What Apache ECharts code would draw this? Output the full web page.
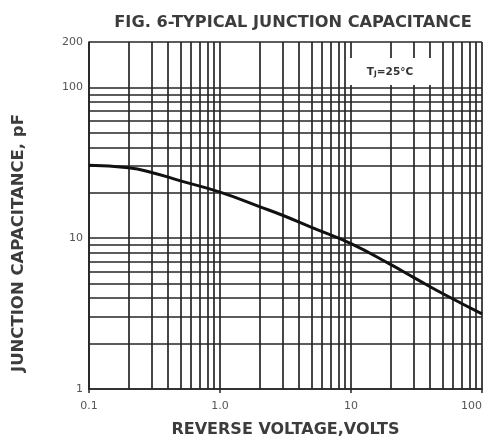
<!DOCTYPE html>
<html>
<head>
<meta charset="utf-8">
<script src="https://cdn.jsdelivr.net/npm/echarts@6/dist/echarts.min.js"></script>
<style>html,body{margin:0;padding:0;background:#fff;}#c{width:489px;height:440px;}</style>
</head>
<body>
<div id="c"></div>
<script>
// Data
const voltage = [0.1, 0.2, 0.3, 0.5, 1, 2, 3, 5, 10, 20, 30, 50, 100];
const capacitance = [30.5, 29.3, 27.3, 24.0, 20.2, 16.2, 14.2, 11.8, 9.2, 6.7, 5.5, 4.3, 3.15];
const xMinorGrid = [0.2,0.3,0.4,0.5,0.6,0.7,0.8,0.9,2,3,4,5,6,7,8,9,20,30,40,50,60,70,80,90];
const yMinorGrid = [2,3,4,5,6,7,8,9,20,30,40,50,60,70,80,90];
const titleText = 'FIG. 6-TYPICAL JUNCTION CAPACITANCE';
const xName = 'REVERSE VOLTAGE,VOLTS';
const yName = 'JUNCTION CAPACITANCE, pF';
const noteText = '{t|T}{s|J}{t|=25°C}';

const chart = echarts.init(document.getElementById('c'));
const gridColor = '#262626';
const textColor = '#3c3c3c';
const xFmt = v => { const r = +(+v).toPrecision(3); return r === 1 ? '1.0' : String(r); };
const yFmt = v => String(+(+v).toPrecision(3));

const gridLines = [];
xMinorGrid.forEach(v => gridLines.push({ xAxis: v }));
yMinorGrid.forEach(v => gridLines.push({ yAxis: v }));

chart.setOption({
  backgroundColor: '#fff',
  animation: false,
  title: {
    text: titleText,
    left: 288, top: 10, textAlign: 'center',
    textStyle: { fontFamily: 'DejaVu Sans', fontWeight: 'bold', fontSize: 16.2, color: textColor }
  },
  grid: { left: 89, right: 7, top: 42, bottom: 51, outerBoundsMode: 'none', containLabel: false },
  xAxis: {
    type: 'log', min: 0.1, max: 100, logBase: 10,
    name: xName, nameLocation: 'middle', nameGap: 33,
    nameTextStyle: { fontFamily: 'DejaVu Sans', fontWeight: 'bold', fontSize: 16, color: textColor },
    axisLine: { show: true, lineStyle: { color: gridColor, width: 1.7 } },
    axisTick: { show: true, length: 4, lineStyle: { color: gridColor, width: 1.5 } },
    splitLine: { show: true, lineStyle: { color: gridColor, width: 1.7 } },
    axisLabel: { formatter: xFmt, fontFamily: 'DejaVu Sans', fontSize: 11, color: '#555', margin: 12, alignMaxLabel: 'right' }
  },
  yAxis: {
    type: 'log', min: 1, max: 200, logBase: 10,
    axisLine: { show: true, lineStyle: { color: gridColor, width: 1.7 } },
    axisTick: { show: false },
    splitLine: { show: true, lineStyle: { color: gridColor, width: 1.7 } },
    axisLabel: { formatter: yFmt, fontFamily: 'DejaVu Sans', fontSize: 11, color: '#555', margin: 6, showMaxLabel: true }
  },
  graphic: [
    {
      type: 'text', z: 100,
      x: 10, y: 372, rotation: Math.PI / 2,
      style: {
        text: yName,
        font: 'bold 16.5px "DejaVu Sans"',
        fill: textColor,
        align: 'left', verticalAlign: 'top'
      }
    },
    {
      type: 'rect', z: 100,
      shape: { x: 347, y: 58, width: 86, height: 27 },
      style: { fill: '#fff' }
    },
    {
      type: 'text', z: 101,
      x: 390, y: 72,
      style: {
        text: noteText,
        align: 'center', verticalAlign: 'middle',
        rich: {
          t: { fontFamily: 'DejaVu Sans', fontWeight: 'bold', fontSize: 10.5, fill: '#333' },
          s: { fontFamily: 'DejaVu Sans', fontWeight: 'bold', fontSize: 7.5, fill: '#333', padding: [5, 0, 0, 0] }
        }
      }
    }
  ],
  series: [
    {
      type: 'line', data: [], z: 1, silent: true,
      markLine: {
        silent: true, symbol: ['none', 'none'], animation: false,
        label: { show: false },
        lineStyle: { type: 'solid', color: gridColor, width: 1.7 },
        emphasis: { disabled: true },
        data: gridLines
      }
    },
    {
      type: 'line', z: 5, smooth: 0.5, showSymbol: false, symbol: 'none',
      lineStyle: { color: '#111', width: 3 },
      data: voltage.map((v, i) => [v, capacitance[i]])
    }
  ]
});
</script>
</body>
</html>
